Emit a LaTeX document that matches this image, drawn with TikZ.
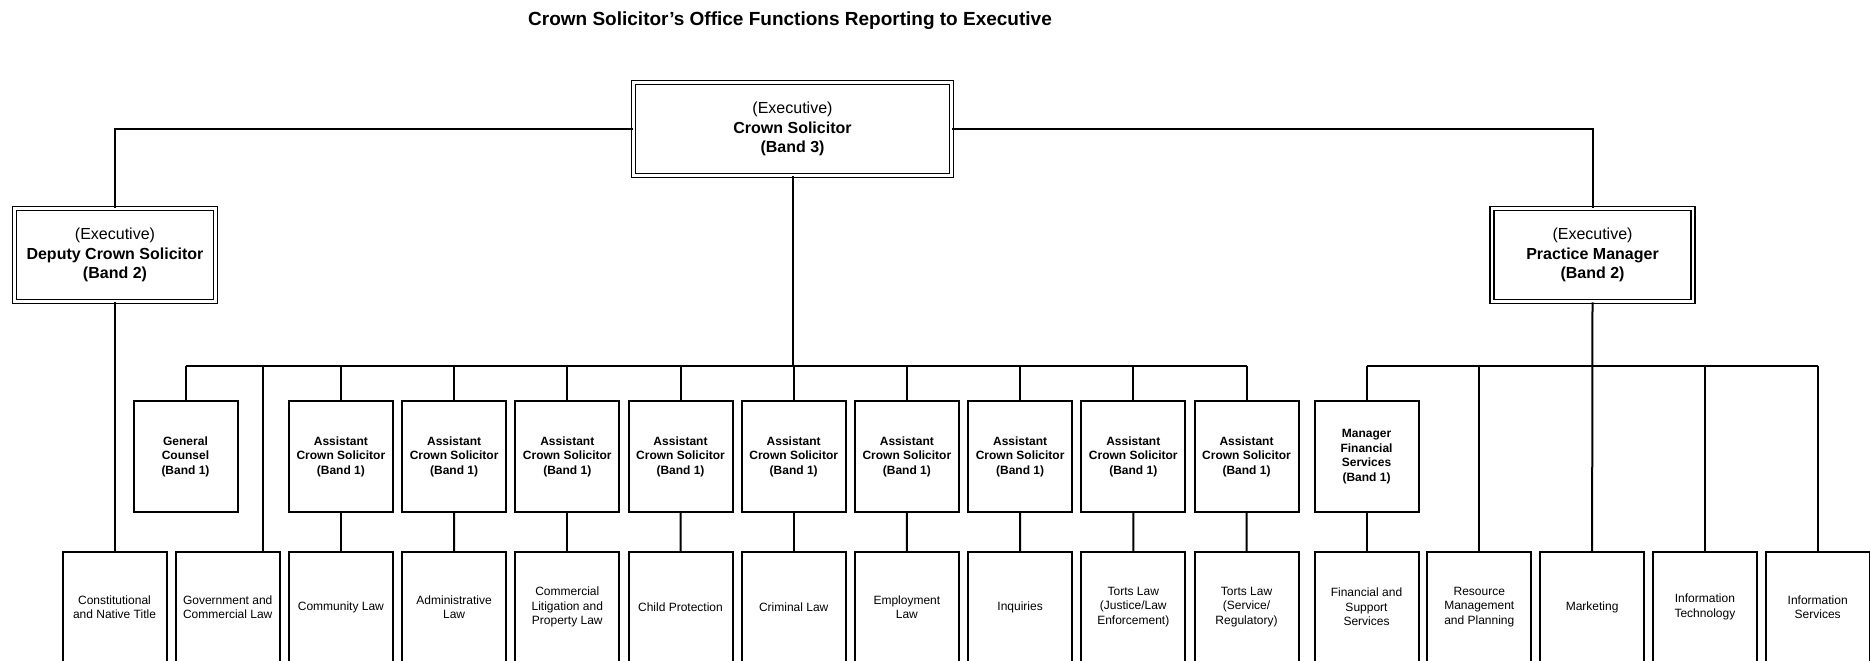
\documentclass[tikz,border=0pt]{standalone}
\usepackage{fontspec}
\setmainfont{Liberation Sans}
\usetikzlibrary{positioning,calc}

\begin{document}
\begin{tikzpicture}[x=0.5pt, y=-0.5pt,
    every node/.style={align=center, inner sep=1pt},
    exec/.style={draw, double, double distance=1.1pt, line width=0.8pt, minimum height=46.5pt, font=\fontsize{8}{9.75}\selectfont},
    role/.style={draw, line width=1pt, minimum width=52pt, minimum height=55.5pt, font=\bfseries\fontsize{6}{7.25}\selectfont},
    unit/.style={draw, line width=1pt, minimum width=52pt, minimum height=55pt, font=\fontsize{6}{7.3}\selectfont},
    link/.style={line width=1pt} ]

    \useasboundingbox (0,0) rectangle (1870,660);

    \node[font=\bfseries\fontsize{9.5}{11}\selectfont] (title) at (790,21) {Crown Solicitor's Office Functions Reporting to Executive};

    % executive level
    \node[exec, minimum width=159pt] (cs) at (792.5,129) {(Executive)\\\textbf{Crown Solicitor}\\\textbf{(Band 3)}};
    \node[exec, minimum width=100.5pt] (dcs) at (115,255) {(Executive)\\\textbf{Deputy Crown Solicitor}\\\textbf{(Band 2)}};
    \node[exec, minimum width=100.5pt] (pm) at (1592.5,255) {(Executive)\\\textbf{Practice Manager}\\\textbf{(Band 2)}};

    % band 1 level
    \node[role] (gc) at (185.5,456.7) {General\\Counsel\\(Band 1)};
    \foreach \i in {1,...,9}
        \node[role] (acs\i) at ({340.9+113.2*(\i-1)},456.7) {Assistant\\Crown Solicitor\\(Band 1)};
    \node[role] (mfs) at (1366.5,456.7) {Manager\\Financial\\Services\\(Band 1)};

    % units
    \node[unit] (cnt) at (114.5,607) {Constitutional\\and Native Title};
    \node[unit] (gcl) at (227.7,607) {Government and\\Commercial Law};
    \node[unit] (col) at (340.9,607) {Community Law};
    \node[unit] (adl) at (454.1,607) {Administrative\\Law};
    \node[unit] (clp) at (567.3,607) {Commercial\\Litigation and\\Property Law};
    \node[unit] (chp) at (680.5,607) {Child Protection};
    \node[unit] (crl) at (793.7,607) {Criminal Law};
    \node[unit] (eml) at (906.9,607) {Employment\\Law};
    \node[unit] (inq) at (1020.1,607) {Inquiries};
    \node[unit] (tlj) at (1133.3,607) {Torts Law\\(Justice/Law\\Enforcement)};
    \node[unit] (tls) at (1246.5,607) {Torts Law\\(Service/\\Regulatory)};
    \node[unit] (fss) at (1366.5,607) {Financial and\\Support\\Services};
    \node[unit] (rmp) at (1479.3,607) {Resource\\Management\\and Planning};
    \node[unit] (mkt) at (1592.1,607) {Marketing};
    \node[unit] (itc) at (1704.9,607) {Information\\Technology};
    \node[unit] (isv) at (1817.7,607) {Information\\Services};

    \coordinate (bus) at (0,366);
    \coordinate (govtap) at (263,366);

    % executive links
    \draw[link] (cs.west) -| (dcs.north);
    \draw[link] (cs.east) -| (pm.north);
    \draw[link] (dcs.south) -- (dcs.south |- cnt.north);

    % crown solicitor bus
    \draw[link] (cs.south) -- (cs.south |- bus);
    \draw[link] (gc.north |- bus) -- (acs9.north |- bus);
    \draw[link] (gc.north) -- (gc.north |- bus);
    \draw[link] (govtap) -- (govtap |- gcl.north);
    \foreach \i in {1,...,9}
        \draw[link] (acs\i.north) -- (acs\i.north |- bus);
    \foreach \a/\b in {acs1/col, acs2/adl, acs3/clp, acs4/chp, acs5/crl, acs6/eml, acs7/inq, acs8/tlj, acs9/tls}
        \draw[link] (\a) -- (\b);

    % practice manager bus
    \draw[link] (pm.south) -- (mkt.north);
    \draw[link] (mfs.north |- bus) -- (isv.north |- bus);
    \draw[link] (mfs.north) -- (mfs.north |- bus);
    \draw[link] (rmp.north) -- (rmp.north |- bus);
    \draw[link] (itc.north) -- (itc.north |- bus);
    \draw[link] (isv.north) -- (isv.north |- bus);
    \draw[link] (mfs) -- (fss);

\end{tikzpicture}
\end{document}
